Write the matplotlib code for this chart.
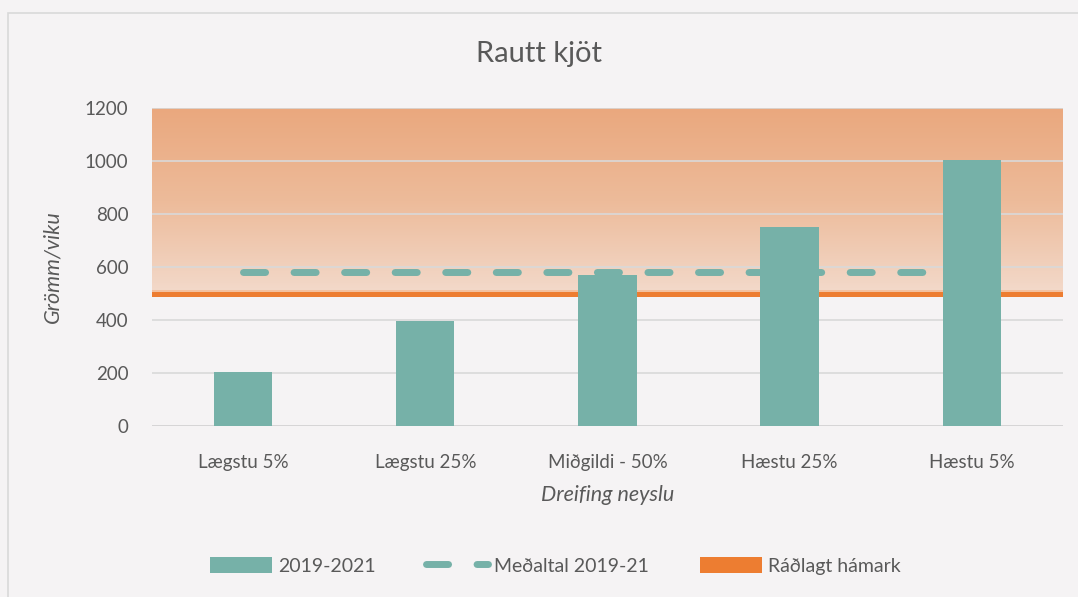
import matplotlib
matplotlib.use("Agg")
import matplotlib.pyplot as plt
import numpy as np
from matplotlib.colors import LinearSegmentedColormap
from matplotlib.patches import Rectangle
from matplotlib.lines import Line2D
from matplotlib.patches import Patch

# gögn
flokkar = ["Lægstu 5%", "Lægstu 25%", "Miðgildi - 50%", "Hæstu 25%", "Hæstu 5%"]
neysla = [205, 395, 568, 750, 1005]
medaltal = [581, 581, 581, 581, 581]
hamark = 500
y_max = 1200
y_ticks = [0, 200, 400, 600, 800, 1000, 1200]

bg = "#F5F3F4"
teal = "#76B1A8"
orange = "#ED7D31"
txt = "#595959"

plt.rcParams["font.family"] = ["Lato", "DejaVu Sans"]
plt.rcParams["lines.scale_dashes"] = False

fig = plt.figure(figsize=(10.78, 5.97), dpi=100, facecolor=bg)
ax = fig.add_axes([0.141, 0.2864, 0.845, 0.5327])
ax.set_facecolor(bg)

x = np.arange(len(flokkar))
ax.set_xlim(-0.5, len(flokkar) - 0.5)
ax.set_ylim(0, y_max)

# litaskali fyrir svæðið yfir hámarki
cmap = LinearSegmentedColormap.from_list(
    "grad", [(0.0, "#F3DACB"), (0.12, "#F1D2BF"), (0.5, "#EDBB9A"), (1.0, "#EAA87E")])
grad = np.linspace(0, 1, 256).reshape(-1, 1)
ax.imshow(grad, cmap=cmap, origin="lower", aspect="auto",
          extent=[-0.5, len(flokkar) - 0.5, hamark, y_max], zorder=0)

for t in y_ticks[1:]:
    ax.axhline(t, color="#D9D9D9", lw=1.2, zorder=1)
ax.axhline(0, color="#D0D0D0", lw=1.2, zorder=1)

# glóð undir línunni
ax.axhspan(hamark - 6, hamark + 12, color="#F4B183", alpha=0.6, lw=0, zorder=1)
ax.axhline(hamark, color=orange, lw=3.6, zorder=2)

# meðaltal fyrir aftan súlurnar
ax.plot(x, medaltal, color=teal, lw=5, dash_capstyle="round",
        dashes=(15.9, 20.5), zorder=3)

ax.bar(x, neysla, width=0.32, color=teal, zorder=4)

ax.set_yticks(y_ticks)
ax.set_xticks(x)
ax.set_xticklabels(flokkar)
ax.tick_params(axis="both", length=0, labelsize=13.5, colors=txt)
ax.tick_params(axis="y", pad=17)
ax.tick_params(axis="x", pad=20)
for s in ax.spines.values():
    s.set_visible(False)

ax.set_ylabel("Grömm/viku", fontsize=15.5, style="italic", color=txt, labelpad=16)
ax.set_xlabel("Dreifing neyslu", fontsize=15.5, style="italic", color=txt, labelpad=10)
fig.text(0.5, 0.91, "Rautt kjöt", ha="center", va="center", fontsize=21, color=txt)

handles = [
    Patch(facecolor=teal, edgecolor="none"),
    Line2D([0], [0], color=teal, lw=5, dash_capstyle="round", dashes=(15.9, 20.5)),
    Patch(facecolor=orange, edgecolor="none"),
]
labels = ["2019-2021", "Meðaltal 2019-21", "Ráðlagt hámark"]
fig.legend(handles, labels, loc="center", bbox_to_anchor=(0.515, 0.052), ncol=3,
           frameon=False, fontsize=14, handlelength=3.2, handleheight=0.9,
           columnspacing=2.6, handletextpad=0.3, labelcolor=txt)

fig.patches.append(Rectangle((8 / 1078, -0.01), 2, 1 - 13 / 597 + 0.01,
                             transform=fig.transFigure, fill=False,
                             edgecolor="#D9D9D9", lw=1.2))

fig.savefig("out.png", dpi=100, facecolor=bg)
